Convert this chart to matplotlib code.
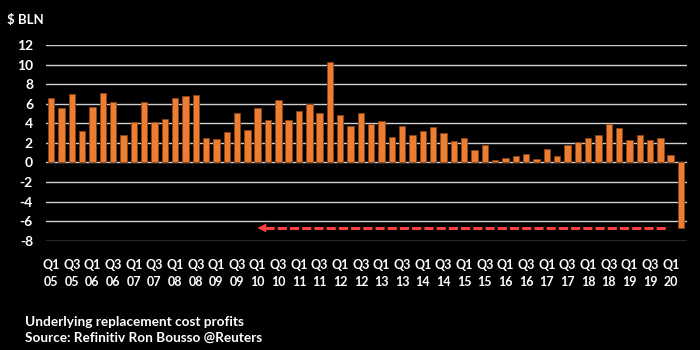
import numpy as np
import matplotlib
matplotlib.use("Agg")
import matplotlib.pyplot as plt

# BP underlying replacement cost profits, $bn, Q1 2005 .. Q2 2020
years = list(range(2005, 2021))
quarters = ["Q1", "Q2", "Q3", "Q4"]
values = [6.6, 5.6, 7.0, 3.2, 5.7, 7.1, 6.2, 2.8, 4.1, 6.2,
          4.1, 4.4, 6.6, 6.8, 6.9, 2.5, 2.4, 3.1, 5.0, 3.3,
          5.6, 4.3, 6.4, 4.3, 5.3, 6.0, 5.0, 10.3, 4.8, 3.7,
          5.1, 3.9, 4.2, 2.6, 3.7, 2.8, 3.2, 3.6, 3.0, 2.2,
          2.5, 1.3, 1.8, 0.2, 0.5, 0.7, 0.9, 0.3, 1.4, 0.7,
          1.8, 2.1, 2.5, 2.8, 3.9, 3.5, 2.3, 2.8, 2.3, 2.5,
          0.8, -6.7]
periods = [(q, y) for y in years for q in quarters][:len(values)]
arrow_level = -6.7
arrow_from, arrow_to = 59.75, 19.7

bg = "#000000"
bar_color = "#ed7d31"
fig = plt.figure(figsize=(7, 3.5), dpi=100)
fig.patch.set_facecolor(bg)
ax = fig.add_axes([0.065, 0.3123, 0.916, 0.5591])
ax.set_facecolor(bg)

x = np.arange(len(values))
ax.bar(x, values, width=0.62, color=bar_color, edgecolor="#8a4418",
       linewidth=0.6, zorder=3)

# grid
ax.set_ylim(-8, 12)
ax.set_xlim(-0.55, len(values) - 0.45)
yticks = np.arange(-8, 13, 2)
ax.set_yticks(yticks)
for yv in yticks:
    ax.axhline(yv, color="#cfcfcf", lw=1.0, zorder=1)
for s in ax.spines.values():
    s.set_visible(False)

font = ["Lato", "DejaVu Sans"]
ax.set_yticklabels([str(v) for v in yticks], color="white", fontsize=10,
                   fontweight="bold", family=font)
ax.tick_params(axis="y", length=0, pad=9)

tick_pos = x[::2]
tick_lab = [f"{periods[i][0]}\n{periods[i][1] % 100:02d}" for i in tick_pos]
ax.set_xticks(tick_pos)
ax.set_xticklabels(tick_lab, color="white", fontsize=9, fontweight="bold",
                   family=font, linespacing=1.55)
ax.tick_params(axis="x", length=0, pad=13)

# dashed arrow
ax.plot([arrow_to + 1.0, arrow_from], [arrow_level, arrow_level],
        color="#ff4040", lw=2.2, dashes=(3, 1.0), dash_capstyle="butt",
        zorder=4)
ax.annotate("", xy=(arrow_to, arrow_level), xytext=(arrow_to + 1.2, arrow_level),
            arrowprops=dict(arrowstyle="-|>", color="#ff4040", lw=0,
                            mutation_scale=16), zorder=4)

fig.text(0.01, 0.943, "$ BLN", color="white", fontsize=9.5,
         fontweight="bold", family=font, va="center")
fig.text(0.035, 0.081, "Underlying replacement cost profits", color="white",
         fontsize=9.8, fontweight="bold", family=font, va="center")
fig.text(0.035, 0.034, "Source: Refinitiv Ron Bousso @Reuters", color="white",
         fontsize=9.8, fontweight="bold", family=font, va="center")

fig.savefig("out.png", dpi=100, facecolor=bg)
